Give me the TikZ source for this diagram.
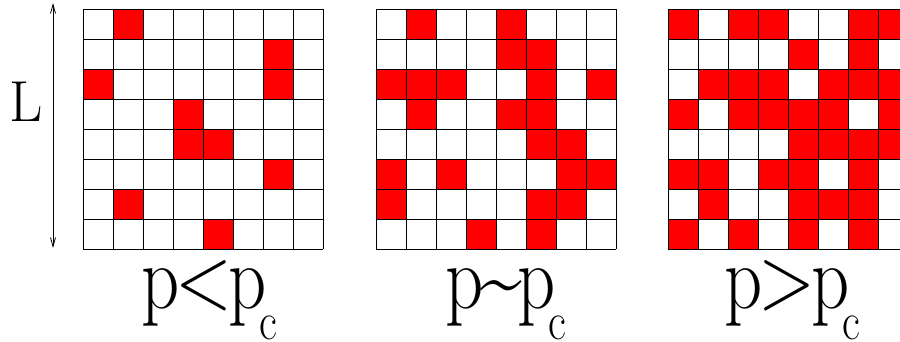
\documentclass[tikz,border=0pt]{standalone}
\usepackage{fontspec}
\usepackage{xcolor}
\usepackage{graphicx}
\usetikzlibrary{arrows.meta}
\colorlet{occupied}{red}
\colorlet{latline}{black}
\newcommand{\lattice}[3]{%
  \foreach \cx/\cy in {#3}
    \fill[occupied] ({#1+\cx-1},{#2+8-\cy}) rectangle ({#1+\cx},{#2+9-\cy});
  \foreach \k in {0,...,8}{
    \draw[latline,line width=0.9bp] ({#1+\k},#2)--({#1+\k},{#2+8});
    \draw[latline,line width=0.9bp] (#1,{#2+\k})--({#1+8},{#2+\k});}}
\newcommand{\plabel}[3]{%
  \node[anchor=base west,inner sep=0pt] (#1) at (#2,1.133)
    {\scalebox{1}[1.22]{\fontsize{75}{78}\selectfont p\kern-0.05em#3\kern-0.05em p\kern-0.1em\raisebox{-0.34em}{\fontsize{44}{46}\selectfont c}}};}

\begin{document}
\begin{tikzpicture}[x=30bp,y=30bp,>={Straight Barb[length=9bp,width=5bp]}]
\useasboundingbox (0,0) rectangle (30,11.4);
\clip (0,0) rectangle (30,11.4);
\lattice{2.767}{3.1}{2/1,7/2,1/3,7/3,4/4,4/5,5/5,7/6,2/7,5/8}
\lattice{12.533}{3.1}{2/1,5/1,5/2,6/2,1/3,2/3,3/3,6/3,8/3,2/4,5/4,6/4,6/5,7/5,
  1/6,3/6,7/6,8/6,1/7,6/7,7/7,4/8,6/8}
\lattice{22.267}{3.1}{1/1,3/1,4/1,7/1,8/1,5/2,7/2,2/3,3/3,4/3,6/3,7/3,8/3,
  1/4,3/4,4/4,5/4,6/4,8/4,5/5,6/5,7/5,8/5,1/6,2/6,4/6,5/6,7/6,2/7,5/7,6/7,7/7,
  1/8,3/8,5/8,7/8}
% system size
\coordinate (Ltop) at (1.767,11.3); \coordinate (Lbot) at (1.767,3.133);
\draw[<->,line width=0.8bp] (Ltop)--(Lbot);
\node[font=\fontsize{58}{60}\selectfont,inner sep=0pt] (sideL) at (0.867,8.0) {L};
\plabel{below}{4.7}{<}
\plabel{near}{14.85}{\textasciitilde}
\plabel{above}{24.13}{>}
\end{tikzpicture}
\end{document}
